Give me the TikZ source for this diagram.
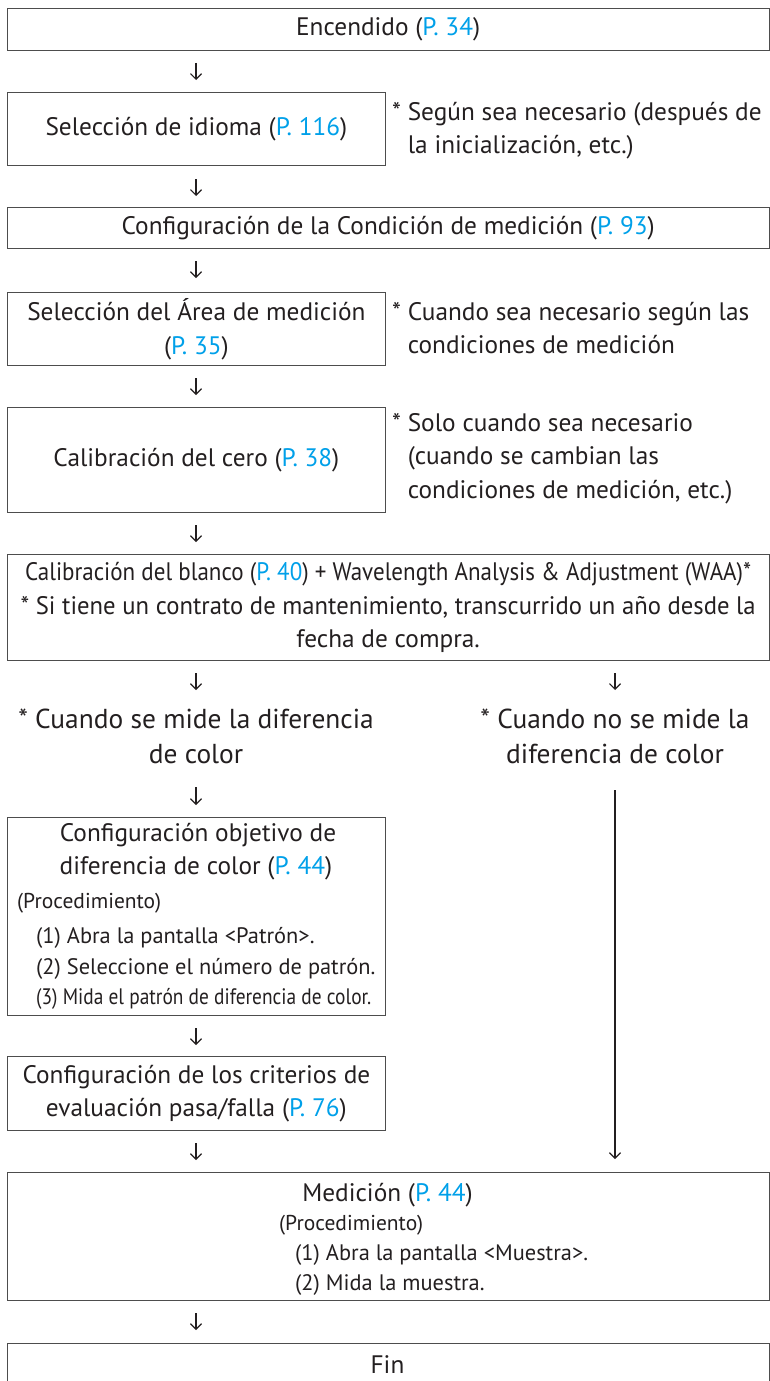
\documentclass[tikz,border=0pt]{standalone}
\usepackage{fontspec}
\usepackage{graphicx}
\setmainfont{PT Sans}
\usetikzlibrary{arrows.meta}
\definecolor{txt}{HTML}{231F20}
\definecolor{lnk}{HTML}{00A0E9}
\definecolor{edgec}{HTML}{4D4D4D}
\newcommand{\pg}[1]{\textcolor{lnk}{#1}}
\newcommand{\fA}{\fontsize{25.3}{33.5}\selectfont}
\newcommand{\fB}{\fontsize{22.4}{30}\selectfont}
\newcommand{\fP}{\fontsize{21.5}{30}\selectfont}
\newcommand{\fC}{\fontsize{27.4}{35}\selectfont}
\newcommand{\fitto}[2]{\resizebox{#1}{\height}{#2}}
\begin{document}
\begin{tikzpicture}[x=1pt,y=-1pt,
  box/.style={draw=edgec,line width=1.3pt,inner sep=0pt,anchor=north west,align=center,font=\fA,text=txt},
  lbl/.style={inner sep=0pt,text=txt,font=\fA},
  sub/.style={inner sep=0pt,text=txt,font=\fB,anchor=base west},
  note/.style={inner sep=0pt,text=txt,font=\fA,anchor=north west,align=left},
  branch/.style={inner sep=0pt,text=txt,font=\fC,align=center,anchor=north},
  arr/.style={draw=txt,line width=1.2pt,-{Straight Barb[length=5.5pt,width=11pt,line width=1.2pt]}}]
\useasboundingbox (0,0) rectangle (770,1381);
\clip (0,0) rectangle (770,1381);

% boxes
\node[box,minimum width=762pt,minimum height=42pt] (b1) at (6.5,8) {Encendido (\pg{P. 34})};
\node[box,minimum width=378.5pt,minimum height=73pt] (b2) at (6.5,92) {Selección de idioma (\pg{P. 116})};
\node[box,minimum width=762pt,minimum height=41pt] (b3) at (6.5,207) {Configuración de la Condición de medición (\pg{P. 93})};
\node[box,minimum width=378.5pt,minimum height=73pt] (b4) at (6.5,292) {Selección del Área de medición\\(\pg{P. 35})};
\node[box,minimum width=378.5pt,minimum height=105pt] (b5) at (6.5,407) {Calibración del cero (\pg{P. 38})};
\node[box,minimum width=762pt,minimum height=106pt] (b6) at (6.5,554) {\fitto{726pt}{Calibración del blanco (\pg{P. 40}) + Wavelength Analysis \& Adjustment (WAA)*}\\\fitto{735pt}{* Si tiene un contrato de mantenimiento, transcurrido un año desde la}\\fecha de compra.};
\node[box,minimum width=378.5pt,minimum height=198pt] (b7) at (6.5,817) {};
\node[box,minimum width=378.5pt,minimum height=74pt] (b8) at (6.5,1056) {Configuración de los criterios de\\evaluación pasa/falla (\pg{P. 76})};
\node[box,minimum width=762pt,minimum height=128pt] (b9) at (6.5,1172) {};
\node[box,minimum width=762pt,minimum height=60pt] (b10) at (6.5,1343) {};

% notes
\node[note] (n2) at (392,102) {* Según sea necesario (después de\\\hphantom{* }la inicialización, etc.)};
\node[note] (n4) at (392,302) {* Cuando sea necesario según las\\\hphantom{* }condiciones de medición};
\node[note] (n5) at (392,413) {* Solo cuando sea necesario\\\hphantom{* }(cuando se cambian las\\\hphantom{* }condiciones de medición, etc.)};

% branch labels
\node[branch] (brl) at (196,709) {* Cuando se mide la diferencia\\de color};
\node[branch] (brr) at (615,709) {* Cuando no se mide la\\diferencia de color};

% box 7 contents
\node[lbl,anchor=base] (t7a) at (198,841) {Configuración objetivo de};
\node[lbl,anchor=base] (t7b) at (196,874) {diferencia de color (\pg{P. 44})};
\node[sub,font=\fP] (t7c) at (17,908) {(Procedimiento)};
\node[sub] (t7d) at (36,943) {(1) Abra la pantalla <Patrón>.};
\node[sub] (t7e) at (36,974) {(2) Seleccione el número de patrón.};
\node[sub] (t7f) at (36,1004) {\fitto{335pt}{(3) Mida el patrón de diferencia de color.}};

% box 9 contents
\node[lbl,anchor=base] (t9a) at (387.5,1201) {Medición (\pg{P. 44})};
\node[sub,font=\fP] (t9b) at (279,1230) {(Procedimiento)};
\node[sub] (t9c) at (295,1260) {(1) Abra la pantalla <Muestra>.};
\node[sub] (t9d) at (295,1290) {(2) Mida la muestra.};

% box 10
\node[lbl,anchor=base] (t10) at (387.5,1373) {Fin};

% arrows
\foreach \n/\x/\ya/\yb in {a1/196/63/80, a2/196/179/196, a3/196/261/278, a4/196/378/395,
  a5/196/525/542, a6/196/673/690, a6r/615/673/690, a7/196/787/805, a8/196/1028/1045,
  a9/196/1143/1160, a10/196/1313/1330, ar/615/790/1159}{
  \coordinate (\n s) at (\x,\ya);
  \coordinate (\n e) at (\x,\yb);
  \draw[arr] (\n s) -- (\n e);
}
\end{tikzpicture}
\end{document}
